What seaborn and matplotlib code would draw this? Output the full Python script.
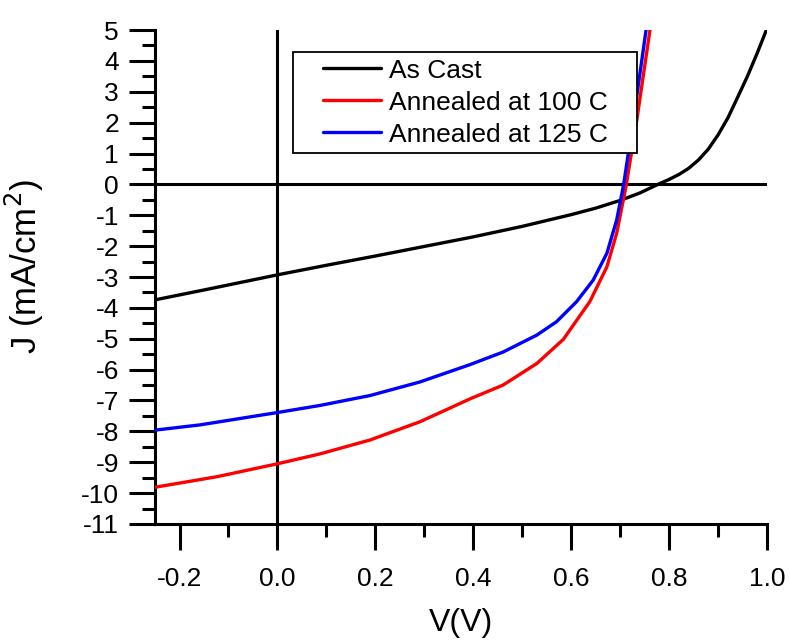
import matplotlib
matplotlib.use("Agg")
import matplotlib.pyplot as plt
import seaborn as sns
import pandas as pd
from matplotlib.patches import Rectangle
from matplotlib.ticker import MultipleLocator, FormatStrFormatter

sns.set_style("ticks")
plt.rcParams["font.family"] = ["Liberation Sans", "DejaVu Sans"]
plt.rcParams["axes.unicode_minus"] = False
plt.rcParams["text.color"] = "black"
plt.rcParams["axes.labelcolor"] = "black"
plt.rcParams["xtick.color"] = "black"
plt.rcParams["ytick.color"] = "black"

# J-V readings (V in volts, J in mA/cm2)
v_cast = [-0.25, -0.15, 0.0, 0.1, 0.2, 0.3, 0.4, 0.5, 0.6, 0.65, 0.7, 0.74, 0.78,
          0.80, 0.82, 0.84, 0.86, 0.88, 0.90, 0.92, 0.94, 0.96, 0.98, 1.0]
j_cast = [-3.74, -3.42, -2.93, -2.62, -2.32, -2.01, -1.70, -1.36, -0.98, -0.77, -0.52,
          -0.28, 0.02, 0.16, 0.32, 0.52, 0.79, 1.14, 1.60, 2.15, 2.82, 3.50, 4.25, 5.05]

v_100 = [-0.25, -0.124, 0.0, 0.087, 0.189, 0.291, 0.393, 0.461, 0.530, 0.584, 0.638,
         0.673, 0.693, 0.712, 0.734, 0.761]
j_100 = [-9.81, -9.47, -9.05, -8.73, -8.28, -7.69, -6.95, -6.50, -5.80, -5.02, -3.80,
         -2.67, -1.58, -0.07, 2.08, 5.0]

v_125 = [-0.25, -0.158, 0.0, 0.087, 0.189, 0.291, 0.393, 0.461, 0.530, 0.570, 0.611,
         0.645, 0.673, 0.693, 0.707, 0.727, 0.753]
j_125 = [-7.96, -7.79, -7.39, -7.16, -6.84, -6.40, -5.84, -5.43, -4.88, -4.45, -3.80,
         -3.10, -2.23, -1.15, -0.02, 2.08, 5.0]

labels = ["As Cast", "Annealed at 100 C", "Annealed at 125 C"]
colors = ["black", "red", "blue"]

df = pd.concat([
    pd.DataFrame({"V": v_cast, "J": j_cast, "sample": labels[0]}),
    pd.DataFrame({"V": v_100, "J": j_100, "sample": labels[1]}),
    pd.DataFrame({"V": v_125, "J": j_125, "sample": labels[2]}),
])

fig = plt.figure(figsize=(7.89, 6.43), dpi=100)
ax = fig.add_axes([0.1965, 0.1851, 0.7756, 0.7682])

ax.axhline(0, color="black", lw=2.2, zorder=1)
ax.axvline(0, color="black", lw=2.2, zorder=1)

sns.lineplot(data=df, x="V", y="J", hue="sample", palette=dict(zip(labels, colors)),
             estimator=None, sort=True, lw=2.4, ax=ax, zorder=3)

ax.set_xlim(-0.25, 1.0)
ax.set_ylim(-11, 5)
ax.xaxis.set_major_locator(MultipleLocator(0.2))
ax.xaxis.set_minor_locator(MultipleLocator(0.1))
ax.xaxis.set_major_formatter(FormatStrFormatter("%.1f"))
ax.yaxis.set_major_locator(MultipleLocator(1))
ax.yaxis.set_minor_locator(MultipleLocator(0.5))

sns.despine(ax=ax)
for s in ["left", "bottom"]:
    ax.spines[s].set_linewidth(2.2)
    ax.spines[s].set_color("black")

ax.tick_params(which="major", length=19, width=2.2, labelsize=19, pad=7)
ax.tick_params(which="minor", length=9.5, width=2.2)
ax.tick_params(axis="x", which="major", pad=12)

ax.set_xlabel("V(V)", fontsize=23, labelpad=12)
ax.set_ylabel("J (mA/cm$^2$)", fontsize=25)
ax.yaxis.set_label_coords(-0.178, 0.522)

# legend box
ax.add_patch(Rectangle((0.2255, 0.751), 0.562, 0.2045, transform=ax.transAxes,
                       fill=True, facecolor="white", edgecolor="black", lw=1.3, zorder=4))
leg = ax.legend(loc="center", bbox_to_anchor=(0.5065, 0.853), borderaxespad=0,
                fontsize=19, frameon=False, handlelength=2.2,
                labelspacing=0.3, borderpad=0.0, handletextpad=0.3)
leg.set_zorder(5)
leg.set_title(None)
for line in leg.get_lines():
    line.set_linewidth(2.4)

fig.savefig("out.png", dpi=100)
